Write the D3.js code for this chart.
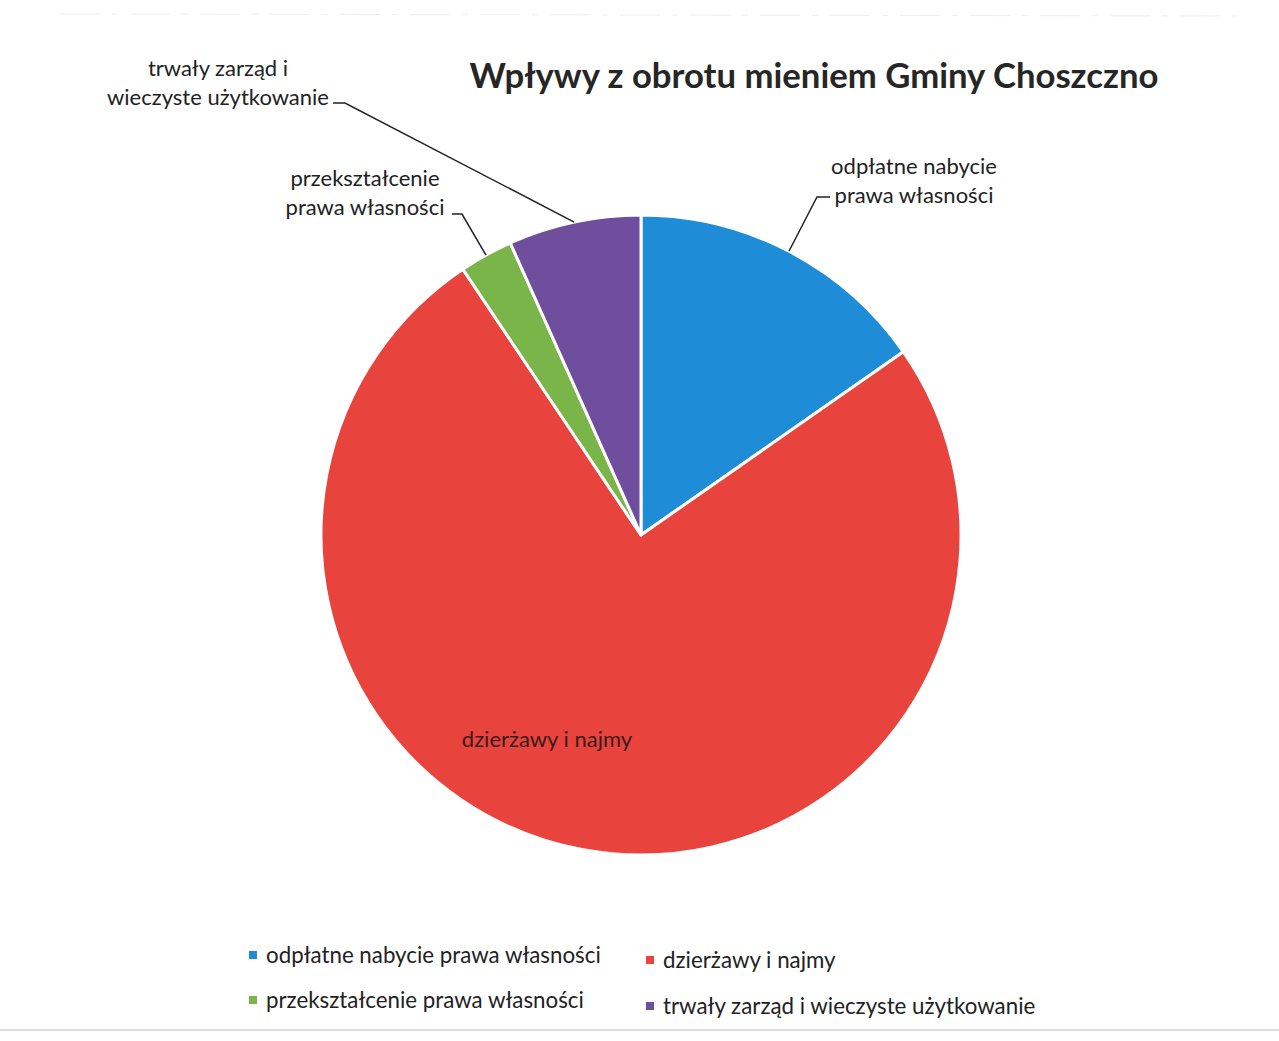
<!DOCTYPE html>
<html><head><meta charset="utf-8">
<script src="https://cdn.jsdelivr.net/npm/d3@7"></script>
<style>
html,body{margin:0;padding:0;background:#fff;}
svg{display:block;}
text{font-family:"Lato","Open Sans",sans-serif;fill:#222;}
</style></head>
<body>
<svg id="chart" width="1279" height="1041"></svg>
<script>
const categories = ["odpłatne nabycie prawa własności","dzierżawy i najmy","przekształcenie prawa własności","trwały zarząd i wieczyste użytkowanie"];
const values = [15.3, 75.3, 2.7, 6.7];
const colors = ["#1E8CD6","#E8433D","#79B548","#6E4E9D"];
const title = "Wpływy z obrotu mieniem Gminy Choszczno";

const svg = d3.select("#chart");
const cx = 641, cy = 535, R = 320;

// scan border lines
svg.append("line").attr("x1",0).attr("x2",1279).attr("y1",1030).attr("y2",1030).attr("stroke","#bbb").attr("stroke-width",1.2);
svg.append("line").attr("x1",60).attr("x2",1250).attr("y1",14).attr("y2",16).attr("stroke","#eee").attr("stroke-width",1).attr("stroke-dasharray","40 12 6 12");

svg.append("text").attr("x",814).attr("y",88).attr("text-anchor","middle")
  .attr("font-size",34.7).attr("font-weight",700).style("fill","#262626").text(title);

const pie = d3.pie().sort(null).value(d=>d)(values);
const arc = d3.arc().innerRadius(0).outerRadius(R);
const g = svg.append("g").attr("transform",`translate(${cx},${cy})`);
g.selectAll("path").data(pie).join("path")
  .attr("d",arc).attr("fill",(d,i)=>colors[i])
  .attr("stroke","#fff").attr("stroke-width",3).attr("stroke-linejoin","round");

// data labels
const labelLayout = [
  {lines:["odpłatne nabycie","prawa własności"], x:914, y:[174,203], elbow:[817,197], elbowEnd:[830,197]},
  {inside:true, x:547, y:747},
  {lines:["przekształcenie","prawa własności"], x:365, y:[186,215], elbow:[462,214], elbowEnd:[452,214]},
  {lines:["trwały zarząd i","wieczyste użytkowanie"], x:218, y:[76,105], elbow:[345,103], elbowEnd:[333,103]}
];
pie.forEach((d,i)=>{
  const L = labelLayout[i];
  if (L.inside){
    svg.append("text").attr("x",L.x).attr("y",L.y).attr("text-anchor","middle")
      .attr("font-size",22).style("fill","#3a1a1a").text(categories[i]);
    return;
  }
  L.lines.forEach((t,k)=>{
    svg.append("text").attr("x",L.x).attr("y",L.y[k]).attr("text-anchor","middle")
      .attr("font-size",22).text(t);
  });
  const a = (d.startAngle+d.endAngle)/2;
  const px = cx + R*Math.sin(a), py = cy - R*Math.cos(a);
  svg.append("polyline")
    .attr("points",[L.elbowEnd, L.elbow, [px,py]].map(p=>p.join(",")).join(" "))
    .attr("fill","none").attr("stroke","#222").attr("stroke-width",1.5);
});

// legend
const legendPos = [[252,963],[649,968],[252,1008],[649,1014]];
categories.forEach((c,i)=>{
  const [x,y] = legendPos[i];
  svg.append("rect").attr("x",x-3).attr("y",y-12).attr("width",8).attr("height",8).attr("fill",colors[i]);
  svg.append("text").attr("x",x+14).attr("y",y).attr("font-size",22.3).text(c);
});
</script>
</body></html>
